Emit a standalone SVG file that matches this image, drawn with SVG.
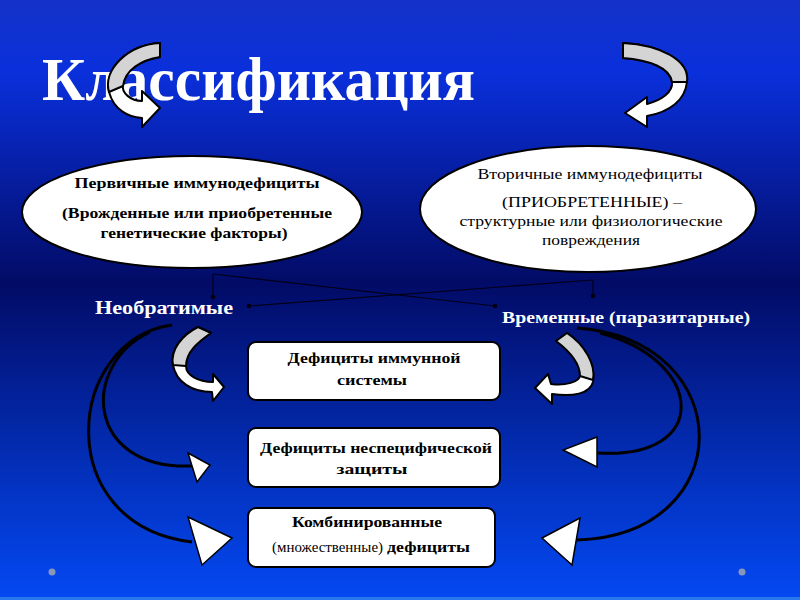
<svg xmlns="http://www.w3.org/2000/svg" width="800" height="600" viewBox="0 0 800 600">
<defs>
<linearGradient id="bg" x1="0" y1="0" x2="0" y2="1">
<stop offset="0" stop-color="#1432c8"/>
<stop offset="0.12" stop-color="#0a30dc"/>
<stop offset="0.47" stop-color="#020b66"/>
<stop offset="1" stop-color="#0449f4"/>
</linearGradient>
<marker id="dot" markerWidth="6" markerHeight="6" refX="3" refY="3" markerUnits="userSpaceOnUse">
<circle cx="3" cy="3" r="2.3" fill="#000010"/>
</marker>
</defs>
<style>
.serif{font-family:"Liberation Serif","Times New Roman",serif}
.b{font-weight:bold}
.blk{fill:#000}
.wht{fill:#fff}
.node{fill:#fff;stroke:#000;stroke-width:2}
.line{fill:none;stroke:#00001a;stroke-width:1.2}
.curve{fill:none;stroke:#000;stroke-width:3}
.head{fill:#fff;stroke:#000;stroke-width:1.5;stroke-linejoin:miter}
.rib{fill:#fff;stroke:#000;stroke-width:2;stroke-linejoin:round}
.gray{fill:#d4d4d4;stroke:#000;stroke-width:2;stroke-linejoin:round}
</style>
<rect width="800" height="600" fill="url(#bg)"/>
<rect x="0" y="597" width="800" height="3" fill="#2a78ee"/>
<circle cx="52" cy="572" r="3.5" fill="#8a96b8"/>
<circle cx="742" cy="572" r="3.5" fill="#8a96b8"/>

<g id="title">
<text class="serif b wht" x="42" y="100" font-size="62" textLength="433" lengthAdjust="spacingAndGlyphs">Классификация</text>
</g>

<g id="arrow-top-left">
<path class="rib" d="M160,43 C127,45 103,70 109,92 C114,110 128,117 142,118 L142,127 L160,108 L142,91 L142,101 C131,101 121,93 123,84 C125,70 141,60 160,57 Z"/>
<path class="gray" d="M160,43 C127,45 103,70 109,92 L123,86 C125,70 141,60 160,57 Z"/>
</g>
<g id="arrow-top-right">
<path class="rib" d="M623,43 C660,45 690,60 687,82 C685,100 670,112 647,116 L647,127 L625,113 L647,97 L647,104 C662,100 673,92 672,82 C670,68 650,60 623,58 Z"/>
<path class="gray" d="M623,43 C660,45 690,60 687,82 L672,82 C670,68 650,60 623,58 Z"/>
</g>

<g id="primary">
<ellipse class="node" cx="192" cy="212" rx="170" ry="56"/>
<text class="serif b blk" x="197" y="188" font-size="15" text-anchor="middle" textLength="245" lengthAdjust="spacingAndGlyphs">Первичные иммунодефициты</text>
<text class="serif b blk" x="197" y="218" font-size="15" text-anchor="middle" textLength="270" lengthAdjust="spacingAndGlyphs">(Врожденные или приобретенные</text>
<text class="serif b blk" x="194" y="238" font-size="15" text-anchor="middle" textLength="187" lengthAdjust="spacingAndGlyphs">генетические факторы)</text>
</g>

<g id="secondary">
<ellipse class="node" cx="588" cy="209" rx="168" ry="63"/>
<text class="serif blk" x="590" y="179" font-size="15" text-anchor="middle" textLength="225" lengthAdjust="spacingAndGlyphs">Вторичные иммунодефициты</text>
<text class="serif blk" x="592" y="207" font-size="15" text-anchor="middle" textLength="180" lengthAdjust="spacingAndGlyphs">(ПРИОБРЕТЕННЫЕ) –</text>
<text class="serif blk" x="591" y="226" font-size="15" text-anchor="middle" textLength="263" lengthAdjust="spacingAndGlyphs">структурные или физиологические</text>
<text class="serif blk" x="591" y="245" font-size="15" text-anchor="middle" textLength="98" lengthAdjust="spacingAndGlyphs">повреждения</text>
</g>

<g id="irreversible">
<text class="serif b wht" x="95" y="314" font-size="18" textLength="138" lengthAdjust="spacingAndGlyphs">Необратимые</text>
</g>
<g id="temporary">
<text class="serif b wht" x="502" y="323" font-size="17" textLength="248" lengthAdjust="spacingAndGlyphs">Временные (паразитарные)</text>
</g>

<g id="box-immune">
<rect class="node" x="248" y="342" width="252" height="58" rx="8"/>
<text class="serif b blk" x="374" y="363" font-size="15" text-anchor="middle" textLength="173" lengthAdjust="spacingAndGlyphs">Дефициты иммунной</text>
<text class="serif b blk" x="372" y="385" font-size="15" text-anchor="middle" textLength="70" lengthAdjust="spacingAndGlyphs">системы</text>
</g>
<g id="box-nonspecific">
<rect class="node" x="248" y="428" width="252" height="59" rx="8"/>
<text class="serif b blk" x="376" y="453" font-size="15" text-anchor="middle" textLength="232" lengthAdjust="spacingAndGlyphs">Дефициты неспецифической</text>
<text class="serif b blk" x="372" y="474" font-size="15" text-anchor="middle" textLength="71" lengthAdjust="spacingAndGlyphs">защиты</text>
</g>
<g id="box-combined">
<rect class="node" x="248" y="508" width="247" height="59" rx="8"/>
<text class="serif b blk" x="367" y="527" font-size="15" text-anchor="middle" textLength="150" lengthAdjust="spacingAndGlyphs">Комбинированные</text>
<text class="serif blk" x="272" y="552" font-size="15" textLength="111" lengthAdjust="spacingAndGlyphs">(множественные)</text>
<text class="serif b blk" x="387" y="552" font-size="15" textLength="83" lengthAdjust="spacingAndGlyphs">дефициты</text>
</g>

<g id="connectors">
<line class="line" x1="213" y1="274" x2="213" y2="297" marker-end="url(#dot)"/>
<line class="line" x1="213" y1="274" x2="495" y2="306" marker-end="url(#dot)"/>
<line class="line" x1="593" y1="280" x2="593" y2="296" marker-end="url(#dot)"/>
<line class="line" x1="593" y1="280" x2="249" y2="306" marker-end="url(#dot)"/>

<path class="rib" d="M198,327 C182,335 170,350 173,365 C176,382 192,392 212,392 L213,401 L224,387 L213,374 L213,382 C198,382 186,375 186,366 C186,352 198,342 211,333 Z"/>
<path class="gray" d="M198,327 C182,335 170,350 173,365 L186,366 C186,352 198,342 211,333 Z"/>

<path class="rib" d="M567,333 C585,345 596,365 593,382 C590,394 572,397 552,394 L552,404 L535,388 L548,374 L551,384 C565,386 580,382 580,375 C580,362 568,350 556,341 Z"/>
<path class="gray" d="M567,333 C585,345 596,365 593,380 L580,376 C580,362 568,350 556,341 Z"/>

<path class="curve" d="M172,325 C65,340 50,525 192,542"/>
<path class="curve" d="M150,332 C80,365 85,470 192,466"/>
<polygon class="head" points="188,453 210,465 197,482"/>
<polygon class="head" points="188,517 232,538 202,565"/>

<path class="curve" d="M577,328 C740,340 740,535 577,540"/>
<path class="curve" d="M600,333 C705,360 712,460 598,453"/>
<polygon class="head" points="597,437 563,450 597,467"/>
<polygon class="head" points="580,518 542,538 572,565"/>
</g>
</svg>
